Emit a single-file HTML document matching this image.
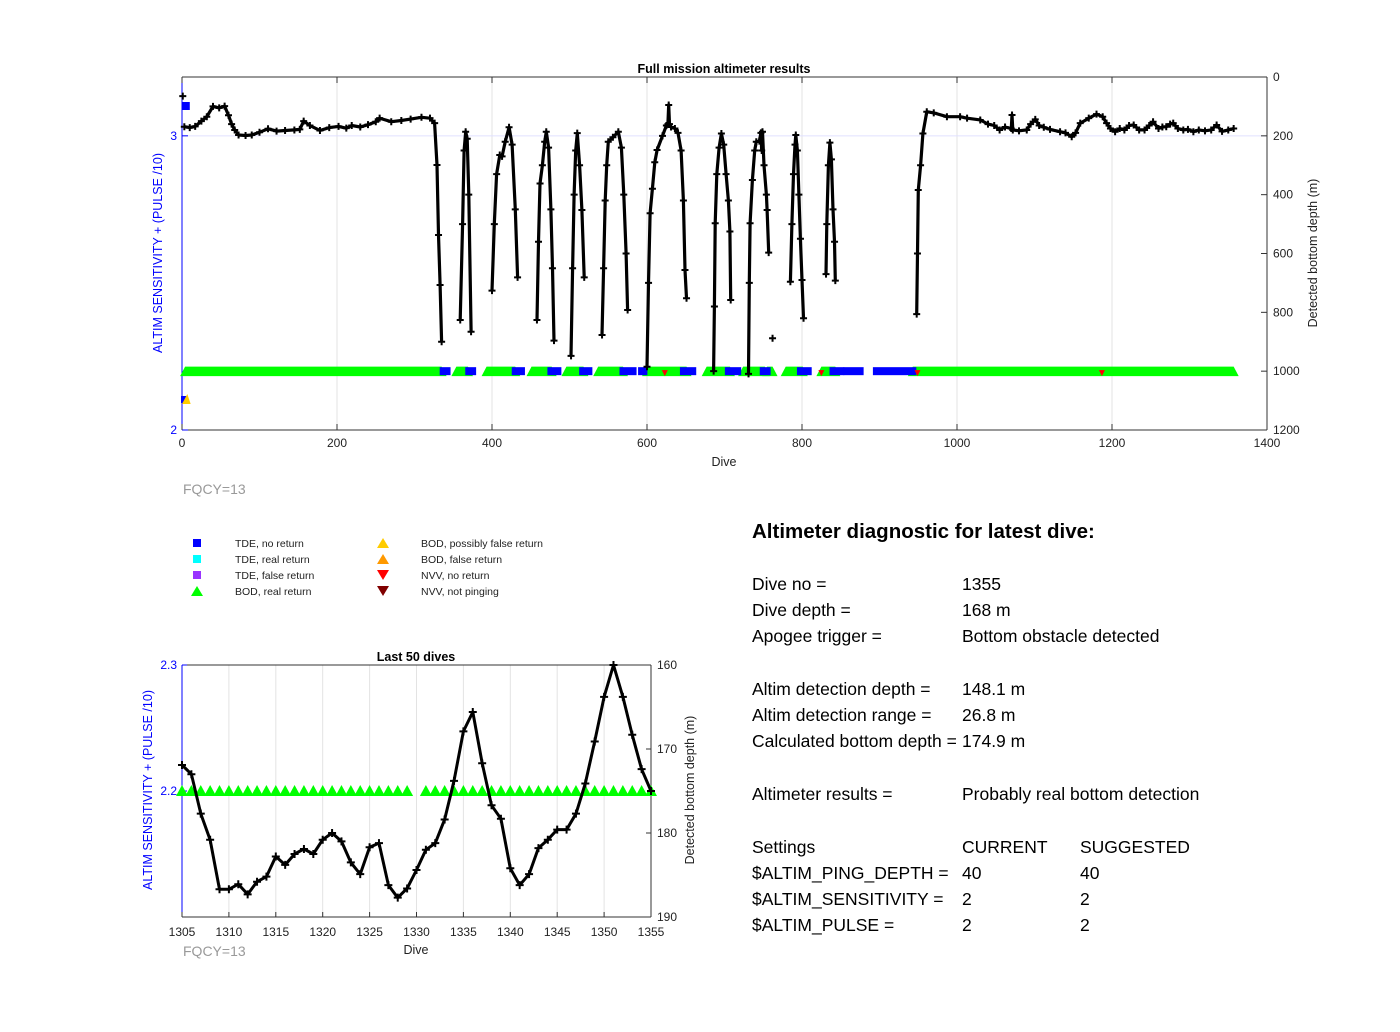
<!DOCTYPE html>
<html><head><meta charset="utf-8"><style>
body{margin:0;background:#fff;width:1400px;height:1032px;overflow:hidden;font-family:"Liberation Sans",Arial,sans-serif}
svg{position:absolute;left:0;top:0}
.diag{position:absolute;font-size:17.5px;color:#000;white-space:nowrap}
</style></head><body>
<svg id="chart" width="1400" height="1032" font-family="Liberation Sans, Arial, sans-serif"></svg>
<div class="diag" style="left:752px;top:520px;font-size:20.5px;font-weight:bold">Altimeter diagnostic for latest dive:</div>
<div>
<div class="diag" style="left:752px;top:574px">Dive no =</div><div class="diag" style="left:962px;top:574px">1355</div>
<div class="diag" style="left:752px;top:600px">Dive depth =</div><div class="diag" style="left:962px;top:600px">168 m</div>
<div class="diag" style="left:752px;top:626px">Apogee trigger =</div><div class="diag" style="left:962px;top:626px">Bottom obstacle detected</div>
<div class="diag" style="left:752px;top:679px">Altim detection depth =</div><div class="diag" style="left:962px;top:679px">148.1 m</div>
<div class="diag" style="left:752px;top:705px">Altim detection range =</div><div class="diag" style="left:962px;top:705px">26.8 m</div>
<div class="diag" style="left:752px;top:731px">Calculated bottom depth =</div><div class="diag" style="left:962px;top:731px">174.9 m</div>
<div class="diag" style="left:752px;top:784px">Altimeter results =</div><div class="diag" style="left:962px;top:784px">Probably real bottom detection</div>
<div class="diag" style="left:752px;top:837px">Settings</div><div class="diag" style="left:962px;top:837px">CURRENT</div><div class="diag" style="left:1080px;top:837px">SUGGESTED</div>
<div class="diag" style="left:752px;top:863px">$ALTIM_PING_DEPTH =</div><div class="diag" style="left:962px;top:863px">40</div><div class="diag" style="left:1080px;top:863px">40</div>
<div class="diag" style="left:752px;top:889px">$ALTIM_SENSITIVITY =</div><div class="diag" style="left:962px;top:889px">2</div><div class="diag" style="left:1080px;top:889px">2</div>
<div class="diag" style="left:752px;top:915px">$ALTIM_PULSE =</div><div class="diag" style="left:962px;top:915px">2</div><div class="diag" style="left:1080px;top:915px">2</div>
</div>
<script>
// ---- Main chart data ----
const mainDives = [3,10,17,25,32,40,48,55,60,64,68,73,82,90,100,111,122,133,145,152,157,165,178,190,202,212,219,230,240,250,255,270,283,295,309,320,326,329,331,333,335,null,
359,362,364,366,368,370,373,null,
400,403,406,410,413,417,422,426,430,433,null,
458,460,462,465,468,470,473,476,478,480,null,
502,504,506,508,510,513,516,519,null,
542,544,546,548,550,556,563,567,570,573,575,null,
600,602,604,607,610,613,620,625,627,628,629,631,636,640,644,647,649,651,null,
686,687,688,690,693,696,699,702,705,707,708,null,
731,732,733,736,739,741,745,747,748,749,751,754,755,757,null,
785,787,789,791,792,794,796,798,800,802,null,
831,832,834,836,838,840,842,843,null,
948,949,950,953,956,961,970,987,1004,1013,1030,1040,1048,1055,1062,1070,1071,1072,1080,1090,1095,1101,1106,1112,1120,1133,1140,1148,1153,1159,1170,1180,1188,1193,1198,1204,1210,1216,1222,1228,1235,1242,1248,1253,1260,1265,1270,1275,1279,1285,1292,1298,1305,1312,1320,1328,1335,1342,1350,1357];
const mainDepths = [169,172,168,150,135,100,105,99,130,160,180,197,199,197,188,176,184,182,180,178,150,165,182,172,168,174,165,170,162,152,140,152,148,143,137,140,157,299,537,707,900,null,
826,500,250,186,210,400,866,null,
726,500,330,265,270,220,171,230,450,681,null,
826,560,362,300,220,186,240,450,650,896,null,
948,650,400,250,191,300,452,681,null,
877,650,420,300,220,205,186,240,400,600,792,null,
985,700,463,380,290,248,200,165,160,95,160,170,175,190,250,420,656,752,null,
1000,780,497,330,240,192,230,330,420,525,758,null,
1009,700,497,350,250,220,218,190,250,186,300,400,452,597,null,
696,500,330,230,197,250,400,550,690,820,null,
670,500,300,223,280,450,560,692,null,
806,600,384,300,192,118,122,135,135,140,146,160,165,180,170,175,129,180,183,180,160,144,165,171,178,186,190,203,190,157,140,126,135,157,175,186,175,180,165,163,180,180,165,152,175,170,169,160,157,175,180,178,186,180,183,180,163,185,180,175];
const outlierDives = [1,762];
const outlierDepths = [65,888];
// marker-row segments (dive ranges)
const greenStart = [4,354,393,451,496,537,600,677,724,755,779,825,943];
const greenEnd   = [335,369,430,477,518,569,651,707,752,762,801,843,1357];
const blueStart = [337,370,430,476,517,569,593,647,705,750,798,840,858,896];
const blueEnd   = [342,375,438,485,525,582,596,659,717,755,808,850,875,943];
const redDives = [623,949,1187,825];
const mainXTicks = [0,200,400,600,800,1000,1200,1400];
const mainDepthTicks = [0,200,400,600,800,1000,1200];
const mainLeftTicks = [2,3];
// ---- Last 50 dives data ----
const lastDives = [1305,1306,1307,1308,1309,1310,1311,1312,1313,1314,1315,1316,1317,1318,1319,1320,1321,1322,1323,1324,1325,1326,1327,1328,1329,1330,1331,1332,1333,1334,1335,1336,1337,1338,1339,1340,1341,1342,1343,1344,1345,1346,1347,1348,1349,1350,1351,1352,1353,1354,1355];
const lastDepths = [171.9,173.0,177.7,180.8,186.7,186.7,186.1,187.3,185.8,185.2,182.8,183.8,182.5,181.9,182.5,180.8,180.0,181.0,183.5,184.9,181.7,181.2,186.2,187.7,186.6,184.4,182.0,181.2,178.4,173.8,167.9,165.6,171.7,176.7,178.3,184.2,186.2,184.9,181.8,180.8,179.6,179.6,177.7,174.1,169.1,163.8,160.0,163.8,168.3,172.4,175.0];
const lastBodDives = [1305,1306,1307,1308,1309,1310,1311,1312,1313,1314,1315,1316,1317,1318,1319,1320,1321,1322,1323,1324,1325,1326,1327,1328,1329,1331,1332,1333,1334,1335,1336,1337,1338,1339,1340,1341,1342,1343,1344,1345,1346,1347,1348,1349,1350,1351,1352,1353,1354,1355];
const lastXTicks = [1305,1310,1315,1320,1325,1330,1335,1340,1345,1350,1355];
const lastDepthTicks = [160,170,180,190];
const lastLeftTicks = ['2.3','2.2'];

const NS='http://www.w3.org/2000/svg';
const svg=document.getElementById('chart');
function mk(tag,attrs,parent,text){const e=document.createElementNS(NS,tag);for(const k in attrs)e.setAttribute(k,attrs[k]);if(text!==undefined)e.textContent=text;(parent||svg).appendChild(e);return e;}

// axis functions main
const M={x0:182,x1:1267,y0:77,y1:430};
const mx=d=>M.x0+d/1400*(M.x1-M.x0);
const my=v=>M.y0+v/1200*(M.y1-M.y0);
const mly=v=>M.y1-(v-2)/1.2*(M.y1-M.y0);

const gMain=mk('g',{});


// grid
mainXTicks.forEach(t=>{if(t>0&&t<1400){const l=mk('line',{x1:mx(t),x2:mx(t),y1:M.y0,y2:M.y1,stroke:'#e3e3e3','stroke-width':1},gMain);}});
const hg=mk('line',{x1:M.x0,x2:M.x1,y1:mly(3),y2:mly(3),stroke:'#e0e0ff','stroke-width':1},gMain);

// frame
mk('line',{x1:M.x0,x2:M.x1,y1:M.y0,y2:M.y0,stroke:'#333','stroke-width':1},gMain);
mk('line',{x1:M.x0,x2:M.x1,y1:M.y1,y2:M.y1,stroke:'#333','stroke-width':1},gMain);
mk('line',{x1:M.x1,x2:M.x1,y1:M.y0,y2:M.y1,stroke:'#333','stroke-width':1},gMain);
mk('line',{x1:M.x0,x2:M.x0,y1:M.y0,y2:M.y1,stroke:'#0000ff','stroke-width':1},gMain);
// x ticks
mainXTicks.forEach(t=>{mk('line',{x1:mx(t),x2:mx(t),y1:M.y1,y2:M.y1-6,stroke:'#333'},gMain);mk('line',{x1:mx(t),x2:mx(t),y1:M.y0,y2:M.y0+6,stroke:'#333'},gMain);
 const tx=mk('text',{x:mx(t),y:M.y1+17,'font-size':12,'text-anchor':'middle',fill:'#222'},gMain,String(t));});
mainDepthTicks.forEach(t=>{mk('line',{x1:M.x1,x2:M.x1-6,y1:my(t),y2:my(t),stroke:'#333'},gMain);
 const tx=mk('text',{x:M.x1+6,y:my(t)+4,'font-size':12,fill:'#222'},gMain,String(t));});
mainLeftTicks.forEach(t=>{mk('line',{x1:M.x0,x2:M.x0+6,y1:mly(t),y2:mly(t),stroke:'#0000ff'},gMain);
 const tx=mk('text',{x:M.x0-5,y:mly(t)+4,'font-size':12,fill:'#0000ff','text-anchor':'end'},gMain,String(t));});
let t1=mk('text',{x:724,y:73,'font-size':12.5,'font-weight':'bold','text-anchor':'middle'},gMain,'Full mission altimeter results');

t1=mk('text',{x:724,y:466,'font-size':12.5,'text-anchor':'middle',fill:'#222'},gMain,'Dive');

t1=mk('text',{x:0,y:0,'font-size':12.5,'text-anchor':'middle',fill:'#0000ff',transform:'translate(162,253) rotate(-90)'},gMain,'ALTIM SENSITIVITY + (PULSE /10)');

t1=mk('text',{x:0,y:0,'font-size':12.5,'text-anchor':'middle',fill:'#222',transform:'translate(1317,253) rotate(-90)'},gMain,'Detected bottom depth (m)');

t1=mk('text',{x:183,y:494,'font-size':14,fill:'#999'},gMain,'FQCY=13');


// marker row
const rowY=mly(2.2);
greenStart.forEach((s,i)=>{const a=mx(s),b=mx(greenEnd[i]);
 const p=mk('polygon',{points:`${a-5},${rowY+5} ${a},${rowY-4.5} ${b},${rowY-4.5} ${b+5},${rowY+5}`,fill:'#00ff00'},gMain);
 });
blueStart.forEach((s,i)=>{const a=mx(s),b=mx(blueEnd[i]);
 const r=mk('rect',{x:a-3.5,y:rowY-4,width:b-a+7,height:8,fill:'#0000ff'},gMain);
 });
redDives.forEach(d=>{const x=mx(d);const p=mk('polygon',{points:`${x-3},${rowY-1} ${x+3},${rowY-1} ${x},${rowY+5}`,fill:'#ff0000'},gMain);
 });
let q=mk('rect',{x:mx(1)-1,y:102,width:8,height:8,fill:'#0000ff'},gMain);
q=mk('rect',{x:mx(0)-1,y:396,width:6,height:7,fill:'#0000ff'},gMain);
q=mk('polygon',{points:`${mx(0)},${404} ${mx(3)+3},${394} ${mx(6)+4},${404}`,fill:'#ffcc00'},gMain);

// depth line
let d='';let pen=false;
mainDives.forEach((dv,i)=>{if(dv===null){pen=false;return;}d+=(pen?'L':'M')+mx(dv).toFixed(1)+','+my(mainDepths[i]).toFixed(1)+' ';pen=true;});
const ln=mk('path',{d:d,fill:'none',stroke:'#000','stroke-width':3.2,'stroke-linejoin':'round'},gMain);

function plus(g,x,y,s,name){const p=mk('path',{d:`M${x-s},${y}H${x+s}M${x},${y-s}V${y+s}`,stroke:'#000','stroke-width':2},g);}
mainDives.forEach((dv,i)=>{if(dv!==null)plus(gMain,mx(dv),my(mainDepths[i]),3.5,'depth-point');});
outlierDives.forEach((dv,i)=>plus(gMain,mx(dv),my(outlierDepths[i]),3.5,'depth-outlier-point'));

// legend
const legend=mk('g',{});
const legItems=[['sq','#0000ff','TDE, no return',197,543],['sq','#00ffff','TDE, real return',197,559],['sq','#9933ff','TDE, false return',197,575],['up','#00ff00','BOD, real return',197,591],
['up','#ffcc00','BOD, possibly false return',383,543],['up','#ff9900','BOD, false return',383,559],['dn','#ff0000','NVV, no return',383,575],['dn','#800000','NVV, not pinging',383,591]];
legItems.forEach(it=>{const [k,c,lab,x,y]=it;
 if(k==='sq')mk('rect',{x:x-4,y:y-4,width:8,height:8,fill:c},legend);
 else if(k==='up')mk('polygon',{points:`${x-6},${y+5} ${x},${y-5} ${x+6},${y+5}`,fill:c},legend);
 else mk('polygon',{points:`${x-6},${y-5} ${x},${y+5} ${x+6},${y-5}`,fill:c},legend);
 const t=mk('text',{x:x+38,y:y+4,'font-size':10.5,fill:'#222'},legend,lab);});

// ---- bottom chart ----
const B={x0:182,x1:651,y0:665,y1:917};
const bx=v=>B.x0+(v-1305)/50*(B.x1-B.x0);
const by=v=>B.y0+(v-160)/30*(B.y1-B.y0);
const gB=mk('g',{});
lastXTicks.forEach(t=>{if(t>1305&&t<1355){const l=mk('line',{x1:bx(t),x2:bx(t),y1:B.y0,y2:B.y1,stroke:'#e3e3e3'},gB);}});
mk('line',{x1:B.x0,x2:B.x1,y1:B.y0,y2:B.y0,stroke:'#333'},gB);
mk('line',{x1:B.x0,x2:B.x1,y1:B.y1,y2:B.y1,stroke:'#333'},gB);
mk('line',{x1:B.x1,x2:B.x1,y1:B.y0,y2:B.y1,stroke:'#333'},gB);
mk('line',{x1:B.x0,x2:B.x0,y1:B.y0,y2:B.y1,stroke:'#0000ff'},gB);
lastXTicks.forEach(t=>{mk('line',{x1:bx(t),x2:bx(t),y1:B.y1,y2:B.y1-5,stroke:'#333'},gB);
 const tx=mk('text',{x:bx(t),y:B.y1+19,'font-size':12,'text-anchor':'middle',fill:'#222'},gB,String(t));});
lastDepthTicks.forEach(t=>{mk('line',{x1:B.x1,x2:B.x1-5,y1:by(t),y2:by(t),stroke:'#333'},gB);
 const tx=mk('text',{x:B.x1+6,y:by(t)+4,'font-size':12,fill:'#222'},gB,String(t));});
lastLeftTicks.forEach((t,i)=>{const y=B.y0+i*126;mk('line',{x1:B.x0,x2:B.x0+5,y1:y,y2:y,stroke:'#0000ff'},gB);
 const tx=mk('text',{x:B.x0-5,y:y+4,'font-size':12,fill:'#0000ff','text-anchor':'end'},gB,t);});
t1=mk('text',{x:416,y:661,'font-size':12.5,'font-weight':'bold','text-anchor':'middle'},gB,'Last 50 dives');
t1=mk('text',{x:416,y:954,'font-size':12.5,'text-anchor':'middle',fill:'#222'},gB,'Dive');
t1=mk('text',{x:183,y:956,'font-size':14,fill:'#999'},gB,'FQCY=13');
t1=mk('text',{x:0,y:0,'font-size':12.5,'text-anchor':'middle',fill:'#0000ff',transform:'translate(152,790) rotate(-90)'},gB,'ALTIM SENSITIVITY + (PULSE /10)');
t1=mk('text',{x:0,y:0,'font-size':12.5,'text-anchor':'middle',fill:'#222',transform:'translate(694,790) rotate(-90)'},gB,'Detected bottom depth (m)');
const bRow=791;
lastBodDives.forEach(dv=>{const x=bx(dv);const p=mk('polygon',{points:`${x-6},${bRow+5} ${x},${bRow-6} ${x+6},${bRow+5}`,fill:'#00ff00'},gB);
 });
let bd='';lastDives.forEach((dv,i)=>{bd+=(i?'L':'M')+bx(dv).toFixed(1)+','+by(lastDepths[i]).toFixed(1)+' ';});
const bl=mk('path',{d:bd,fill:'none',stroke:'#000','stroke-width':3,'stroke-linejoin':'round'},gB);
lastDives.forEach((dv,i)=>plus(gB,bx(dv),by(lastDepths[i]),4,'last-depth-point'));
</script>
</body></html>
